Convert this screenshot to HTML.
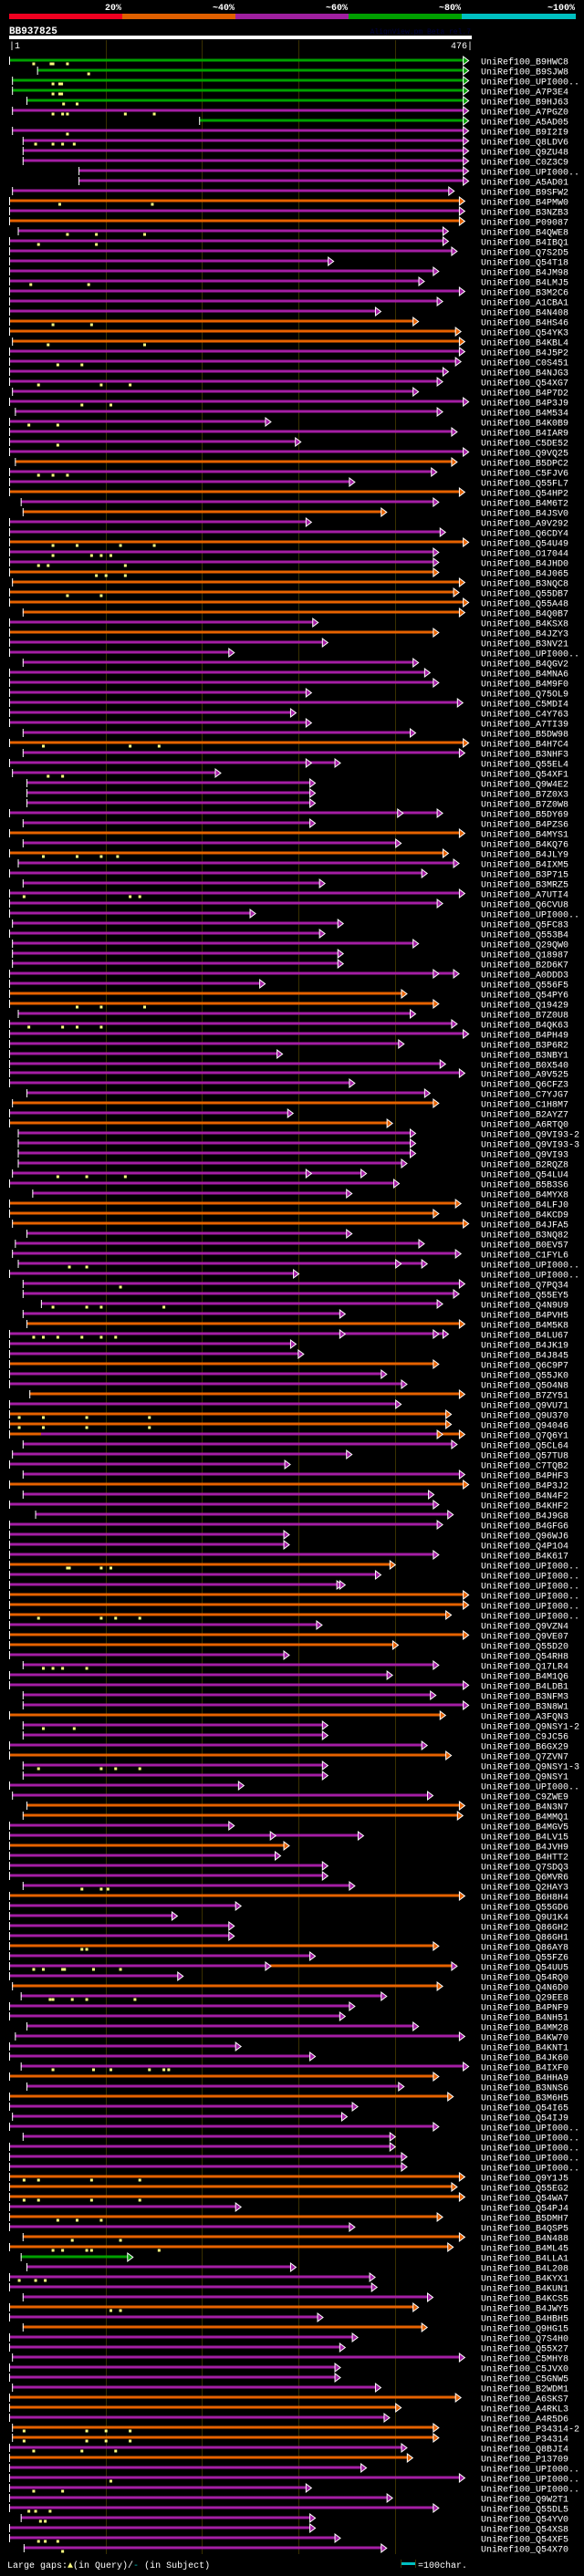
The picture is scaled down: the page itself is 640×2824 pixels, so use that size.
<!DOCTYPE html>
<html><head><meta charset="utf-8">
<style>
html,body{margin:0;padding:0;background:#000;}
body{width:640px;height:2819px;overflow:hidden;font-family:"Liberation Mono",monospace;}
svg text{font-family:"Liberation Mono",monospace;}
</style></head>
<body>
<svg id="chart" width="640" height="2819" xmlns="http://www.w3.org/2000/svg">
<rect x="0" y="0" width="640" height="2819" fill="#000"/>
<g>
<rect x="10" y="15" width="124" height="6" fill="#f00020"/>
<rect x="134" y="15" width="124" height="6" fill="#e06000"/>
<rect x="258" y="15" width="124" height="6" fill="#a020a0"/>
<rect x="382" y="15" width="124" height="6" fill="#00a000"/>
<rect x="506" y="15" width="125" height="6" fill="#00c0c0"/>
<text x="133" y="11" fill="#fff" font-size="10" font-weight="bold" text-anchor="end">20%</text>
<text x="257" y="11" fill="#fff" font-size="10" font-weight="bold" text-anchor="end">~40%</text>
<text x="381" y="11" fill="#fff" font-size="10" font-weight="bold" text-anchor="end">~60%</text>
<text x="505" y="11" fill="#fff" font-size="10" font-weight="bold" text-anchor="end">~80%</text>
<text x="630" y="11" fill="#fff" font-size="10" font-weight="bold" text-anchor="end">~100%</text>
</g>
<text x="10" y="37" fill="#fff" font-size="11" font-weight="bold">BB937825</text>
<text x="516" y="37" fill="#000040" font-size="8" text-anchor="end">AlignView.pm Beta rel.7</text>
<rect x="10" y="39" width="507" height="4" fill="#fff"/>
<text x="10" y="53" fill="#fff" font-size="10">|1</text>
<text x="518" y="53" fill="#fff" font-size="10" text-anchor="end">476|</text>
<g id="grid"></g>
<g id="rows"></g>
<g>
<text x="8" y="2815" fill="#fff" font-size="10">Large gaps:<tspan fill="#ffff80">▲</tspan>(in Query)/<tspan fill="#00c0c0">-</tspan> (in Subject)</text>
<rect x="440" y="2809" width="15" height="3" fill="#00c0c0"/>
<rect x="439" y="2806" width="1" height="9" fill="#3a3000"/>
<rect x="455" y="2806" width="1" height="9" fill="#3a3000"/>
<text x="458" y="2815" fill="#fff" font-size="10">=100char.</text>
</g>
</svg>
<script>
const names=["B9HWC8","B9SJW8","UPI000..","A7P3E4","B9HJ63","A7PGZ0","A5AD05","B9I2I9","Q8LDV6","Q9ZU48","C0Z3C9","UPI000..","A5AD01","B9SFW2","B4PMW0","B3NZB3","P09087","B4QWE8","B4IBQ1","Q7S2D5","Q54T18","B4JM98","B4LMJ5","B3M2C6","A1CBA1","B4N408","B4HS46","Q54YK3","B4KBL4","B4J5P2","C0S451","B4NJG3","Q54XG7","B4P7D2","B4P3J9","B4M534",
"B4K0B9","B4IAR9","C5DE52","Q9VQ25","B5DPC2","C5FJV6","Q55FL7","Q54HP2","B4M6T2","B4JSV0","A9V292","Q6CDY4","Q54U49","O17044","B4JHD0","B4J065","B3NQC8","Q55DB7","Q55A48","B4Q0B7","B4KSX8","B4JZY3","B3NV21","UPI000..","B4QGV2","B4MNA6","B4M9F0","Q75OL9","C5MDI4","C4Y763","A7TI39","B5DW98","B4H7C4","B3NHF3","Q55EL4","Q54XF1",
"Q9W4E2","B7Z0X3","B7Z0W8","B5DY69","B4PZS6","B4MYS1","B4KQ76","B4JLY9","B4IXM5","B3P715","B3MRZ5","A7UTI4","Q6CVU8","UPI000..","Q5FC83","Q553B4","Q29QW0","Q18987","B2D6K7","A0DDD3","Q556F5","Q54PY6","Q19429","B7Z0U8","B4QK63","B4PH49","B3P6R2","B3NBY1","B0X540","A9V525","Q6CFZ3","C7YJG7","C1H8M7","B2AYZ7","A6RTQ0","Q9VI93-2",
"Q9VI93-3","Q9VI93","B2RQZ8","Q54LU4","B5B3S6","B4MYX8","B4LFJ0","B4KCD9","B4JFA5","B3NQ82","B0EV57","C1FYL6","UPI000..","UPI000..","Q7PQ34","Q55EY5","Q4N9U9","B4PVH5","B4M5K8","B4LU67","B4JK19","B4J845","Q6C9P7","Q55JK0","Q5O4N8","B7ZY51","Q9VU71","Q9U370","Q94046","Q7Q6Y1","Q5CL64","Q57TU8","C7TQB2","B4PHF3","B4P3J2","B4N4F2",
"B4KHF2","B4J9G8","B4GFG6","Q96WJ6","Q4P1O4","B4K617","UPI000..","UPI000..","UPI000..","UPI000..","UPI000..","UPI000..","Q9VZN4","Q9VE07","Q55D20","Q54RH8","Q17LR4","B4M1Q6","B4LDB1","B3NFM3","B3N8W1","A3FQN3","Q9NSY1-2","C9JC56","B6GX29","Q7ZVN7","Q9NSY1-3","Q9NSY1","UPI000..","C9ZWE9","B4N3N7","B4MMQ1","B4MGV5","B4LV15","B4JVH9","B4HTT2",
"Q7SDQ3","Q6MVR6","Q2HAY3","B6H8H4","Q55GD6","Q9U1K4","Q86GH2","Q86GH1","Q86AY8","Q55FZ6","Q54UU5","Q54RQ0","Q4N6D0","Q29EE8","B4PNF9","B4NH51","B4MM28","B4KW70","B4KNT1","B4JK60","B4IXF0","B4HHA9","B3NNS6","B3M6H5","Q54I65","Q54IJ9","UPI000..","UPI000..","UPI000..","UPI000..","UPI000..","Q9Y1J5","Q55EG2","Q54WA7","Q54PJ4","B5DMH7",
"B4QSP5","B4N488","B4ML45","B4LLA1","B4L208","B4KYX1","B4KUN1","B4KCS5","B4JWY5","B4HBH5","Q9HG15","Q7S4H0","Q55X27","C5MHY8","C5JVX0","C5GNW5","B2WDM1","A6SKS7","A4RKL3","A4R5D6","P34314-2","P34314","Q8BJI4","P13709","UPI000..",
"UPI000..","UPI000..","Q9W2T1","Q55DL5","Q54YV0","Q54XS8","Q54XF5","Q54X70"];
const colors="gggggmgmmmmmmmomommmmmmmmmooommmmmmm"+
"mmmmommomommoooooommooommmmmmmmmmommm".slice(0,0)+
"mmmmo"+"mmo"+"mo"+"mmo"+"mmooooo"+"mo"+"mmmmmmmmmm"+"o"+"mmm"+
"mmmmmomo"+"mmmmmmmmmmmmm"+"oo"+"mmmmmmmmm"+"omom"+
"mmmmmm"+"ooo"+"mmmmmmmmm"+"o"+"mmm"+"o"+"mm"+"o"+"m"+"ooo"+"mmmm"+"o"+"m"+
"mmmmmm"+"o"+"mm"+"ooo"+"m"+"oo"+"mmmmmm"+"o"+"mmm"+"o"+"mmmm"+"oo"+"mm"+"o"+"m"+
"mmm"+"o"+"mmmm"+"o"+"mmm"+"o"+"mmmmmmmm"+"o"+"m"+"o"+"mmmmmmm"+"ooo"+"m"+"o"+
"m"+"oo"+"g"+"mmmm"+"o"+"m"+"o"+"mmmmmm"+"oo"+"m"+"oo"+"m"+"o"+"m"+
"mmmmmmmm";
const starts=[0,29,3,3,18,3,197,3,14,14,14,72,72,3,0,0,0,9,0,0,0,0,0,0,0,0,0,0,3,0,0,0,0,3,0,6,
0,0,0,0,6,0,0,0,12,14,0,0,0,0,0,0,3,0,0,14,0,0,0,0,14,0,0,0,0,0,0,14,0,14,0,3,
18,18,18,0,14,0,14,0,9,0,14,0,0,0,3,0,3,3,3,0,0,0,0,9,0,0,0,0,0,0,0,18,3,0,0,9,
9,9,9,3,0,24,0,0,3,18,6,3,9,0,14,14,33,14,18,0,0,0,0,0,0,21,0,0,0,0,14,3,0,14,0,14,
0,27,0,0,0,0,0,0,0,0,0,0,0,0,0,0,14,0,0,14,14,0,14,14,0,0,14,14,0,3,18,14,0,0,0,0,
0,0,14,0,0,0,0,0,0,0,0,0,3,12,0,0,18,6,0,0,12,0,18,0,0,3,0,14,0,0,0,0,0,0,0,0,
0,14,0,12,18,0,0,14,0,0,14,0,0,3,0,0,3,0,0,0,3,3,0,0,0,
0,0,0,0,12,0,0,15];
const ends=[476,476,476,476,476,476,476,476,476,476,476,476,476,461,472,472,472,455,455,464,336,445,430,472,449,385,424,468,472,472,468,455,449,424,476,449,
271,464,302,476,464,443,358,472,445,391,313,452,476,445,445,445,472,466,476,472,320,445,330,233,424,436,445,313,470,297,313,421,476,472,343,219,
317,317,317,449,317,472,406,455,466,433,327,472,449,255,346,327,424,346,346,466,265,412,445,421,464,476,409,283,452,472,358,436,445,294,397,421,
421,421,412,370,404,355,468,445,476,355,430,468,433,300,472,466,449,348,472,455,297,305,445,391,412,472,406,458,458,472,464,355,291,472,476,440,
445,460,449,290,290,445,400,385,348,476,476,458,324,476,403,290,445,397,476,442,476,452,330,330,433,458,330,330,243,439,472,470,233,367,290,281,
330,330,358,472,240,174,233,233,445,317,464,180,449,391,358,348,424,472,240,317,476,445,409,460,361,350,445,400,400,412,412,472,464,472,240,449,
358,472,460,128,297,379,381,439,424,325,433,361,348,472,343,343,385,468,406,394,445,445,412,418,370,
472,313,397,445,317,317,343,391];
// rows with an extra inner arrowhead: [row, position]
const innerArrows=[[70,313],[75,408],[91,445],[111,313],[120,406],[127,348],[127,445],[137,449],[152,345],[177,276],[190,271]];
// rows whose first part has a different colour: [row, from, to, colour]
const subSegs=[[137,33,449,"m"],[190,0,271,"m"],[190,271,464,"o"]];
// approximate large-gap marker positions: [row, position]
const gapMarks=[[0,25],[0,43],[0,45],[0,60],[1,82],[2,45],[2,52],[2,54],[3,45],[3,52],[3,54],[4,56],[4,70],[5,45],[5,55],[5,60],[5,120],[5,150],[7,60],[8,27],[8,45],[8,55],[8,67],[14,52],[14,148],[17,60],[17,90],[17,140],[18,30],[18,90],[22,22],[22,82],[26,45],[26,85],[28,40],[28,140],[30,50],[30,75],[32,30],[32,95],[32,125],[34,75],[34,105],[36,20],[36,50],[38,50],[41,30],[41,45],[41,60],[48,45],[48,70],[48,115],[48,150],[49,45],[49,85],[49,95],[49,105],[50,30],[50,40],[50,120],[51,90],[51,100],[51,120],[53,60],[53,95],[68,35],[68,125],[68,155],[71,40],[71,55],[79,35],[79,70],[79,95],[79,112],[83,15],[83,125],[83,135],[94,70],[94,95],[94,140],[96,20],[96,55],[96,70],[96,95],[111,50],[111,80],[111,120],[120,62],[120,80],[122,115],[124,45],[124,80],[124,95],[124,160],[127,25],[127,35],[127,50],[127,75],[127,95],[127,110],[135,10],[135,35],[135,80],[135,145],[136,10],[136,35],[136,80],[136,145],[150,60],[150,62],[150,95],[150,105],[155,30],[155,95],[155,110],[155,135],[160,35],[160,45],[160,55],[160,80],[166,35],[166,67],[170,30],[170,95],[170,110],[170,135],[182,75],[182,95],[182,102],[188,75],[188,80],[190,25],[190,35],[190,55],[190,57],[190,87],[190,115],[193,42],[193,45],[193,65],[193,80],[193,130],[200,45],[200,87],[200,105],[200,145],[200,160],[200,165],[211,15],[211,30],[211,85],[211,135],[213,15],[213,30],[213,85],[213,135],[215,50],[215,70],[215,95],[217,65],[217,115],[218,45],[218,55],[218,80],[218,85],[218,155],[221,10],[221,27],[221,37],[224,105],[224,115],[236,15],[236,80],[236,100],[236,125],[237,15],[237,80],[237,100],[237,125],[238,25],[238,75],[238,110],[241,105],[242,25],[242,55],[244,20],[244,27],[244,42],[245,32],[245,37],[247,30],[247,37],[247,50],[248,55]];
const COL={g:"#00a000",m:"#a41ea4",o:"#e66200"};
const NS="http://www.w3.org/2000/svg";
function xs(c){return 10+c*1.057;}
function rowY(i){return 66+i*10.995;}
const grid=document.getElementById('grid');
[100,200,300,400].forEach(function(t){
  const l=document.createElementNS(NS,'rect');
  
  
  l.setAttribute('x',Math.round(xs(t)));l.setAttribute('y',44);l.setAttribute('width',1);l.setAttribute('height',2756);
  l.setAttribute('fill','#3a3000');grid.appendChild(l);
});
const rowsG=document.getElementById('rows');
function arrow(g,x,y,fill){
  const p=document.createElementNS(NS,'polygon');
  
  
  p.setAttribute('points',(x-5.5)+','+(y-4.5)+' '+(x+0.5)+','+y+' '+(x-5.5)+','+(y+4.5));
  p.setAttribute('fill',fill);p.setAttribute('stroke','#fff');p.setAttribute('stroke-width','1');
  g.appendChild(p);
}
for(let i=0;i<names.length;i++){
  const y=Math.round(rowY(i))+0.5;
  const g=document.createElementNS(NS,'g');
  
  
  const c=COL[colors[i]]||COL.m;
  const x0=xs(starts[i]),x1=xs(ends[i]);
  const b=document.createElementNS(NS,'rect');
  
  
  b.setAttribute('x',x0);b.setAttribute('y',y-2);b.setAttribute('width',Math.max(0,x1-5-x0));b.setAttribute('height',3);
  b.setAttribute('fill',c);g.appendChild(b);
  subSegs.forEach(function(s){ if(s[0]===i){
    const r=document.createElementNS(NS,'rect');
    
    
    r.setAttribute('x',xs(s[1]));r.setAttribute('y',y-2);r.setAttribute('width',xs(s[2])-xs(s[1]));r.setAttribute('height',3);
    r.setAttribute('fill',COL[s[3]]);g.appendChild(r);
  }});
  const t=document.createElementNS(NS,'rect');
  
  
  t.setAttribute('x',x0);t.setAttribute('y',y-4.5);t.setAttribute('width',1);t.setAttribute('height',9);
  t.setAttribute('fill','#fff');g.appendChild(t);
  innerArrows.forEach(function(a){ if(a[0]===i){ arrow(g,xs(a[1]),y,c); }});
  arrow(g,x1,y,c);
  gapMarks.forEach(function(m){ if(m[0]===i){
    const k=document.createElementNS(NS,'rect');
    
    
    k.setAttribute('x',xs(m[1])-1);k.setAttribute('y',y+2);k.setAttribute('width',3);k.setAttribute('height',3);
    k.setAttribute('fill','#ffff80');g.appendChild(k);
  }});
  const tx=document.createElementNS(NS,'text');
  
  
  tx.setAttribute('x',527);tx.setAttribute('y',y+4);tx.setAttribute('fill','#fff');tx.setAttribute('font-size','10');
  tx.textContent='UniRef100_'+names[i];
  g.appendChild(tx);
  rowsG.appendChild(g);
}
</script>
</body></html>
